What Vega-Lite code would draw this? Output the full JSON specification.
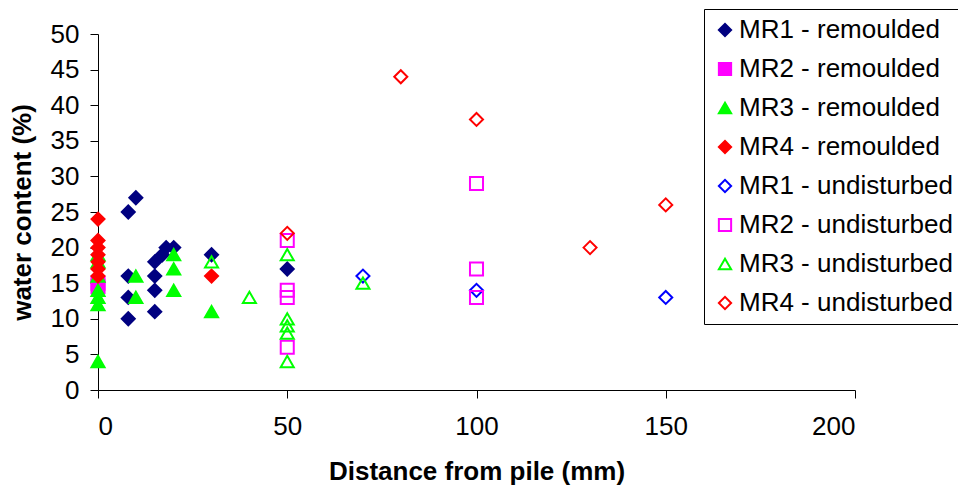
{
  "$schema": "https://vega.github.io/schema/vega-lite/v6.json",
  "width": 757,
  "height": 356,
  "autosize": "none",
  "padding": {"left": 98, "top": 34, "right": 103, "bottom": 104},
  "background": "white",
  "config": {
    "view": {"stroke": null},
    "font": "Liberation Sans"
  },
  "data": {
    "values": [
      {"x": 8, "y": 25, "s": "MR1 - remoulded"},
      {"x": 10, "y": 27, "s": "MR1 - remoulded"},
      {"x": 8, "y": 16, "s": "MR1 - remoulded"},
      {"x": 8, "y": 13, "s": "MR1 - remoulded"},
      {"x": 8, "y": 10, "s": "MR1 - remoulded"},
      {"x": 15, "y": 18, "s": "MR1 - remoulded"},
      {"x": 15, "y": 16, "s": "MR1 - remoulded"},
      {"x": 15, "y": 14, "s": "MR1 - remoulded"},
      {"x": 15, "y": 11, "s": "MR1 - remoulded"},
      {"x": 17, "y": 19, "s": "MR1 - remoulded"},
      {"x": 18, "y": 20, "s": "MR1 - remoulded"},
      {"x": 20, "y": 20, "s": "MR1 - remoulded"},
      {"x": 30, "y": 19, "s": "MR1 - remoulded"},
      {"x": 50, "y": 17, "s": "MR1 - remoulded"},
      {"x": 0, "y": 15, "s": "MR2 - remoulded"},
      {"x": 0, "y": 14.5, "s": "MR2 - remoulded"},
      {"x": 0, "y": 4, "s": "MR3 - remoulded"},
      {"x": 0, "y": 12, "s": "MR3 - remoulded"},
      {"x": 0, "y": 13, "s": "MR3 - remoulded"},
      {"x": 0, "y": 14, "s": "MR3 - remoulded"},
      {"x": 0, "y": 16, "s": "MR3 - remoulded"},
      {"x": 0, "y": 18, "s": "MR3 - remoulded"},
      {"x": 0, "y": 19, "s": "MR3 - remoulded"},
      {"x": 10, "y": 16, "s": "MR3 - remoulded"},
      {"x": 10, "y": 13, "s": "MR3 - remoulded"},
      {"x": 20, "y": 19, "s": "MR3 - remoulded"},
      {"x": 20, "y": 17, "s": "MR3 - remoulded"},
      {"x": 20, "y": 14, "s": "MR3 - remoulded"},
      {"x": 30, "y": 11, "s": "MR3 - remoulded"},
      {"x": 0, "y": 24, "s": "MR4 - remoulded"},
      {"x": 0, "y": 21, "s": "MR4 - remoulded"},
      {"x": 0, "y": 20, "s": "MR4 - remoulded"},
      {"x": 0, "y": 19, "s": "MR4 - remoulded"},
      {"x": 0, "y": 18, "s": "MR4 - remoulded"},
      {"x": 0, "y": 17, "s": "MR4 - remoulded"},
      {"x": 0, "y": 16, "s": "MR4 - remoulded"},
      {"x": 30, "y": 16, "s": "MR4 - remoulded"},
      {"x": 70, "y": 16, "s": "MR1 - undisturbed"},
      {"x": 100, "y": 14, "s": "MR1 - undisturbed"},
      {"x": 150, "y": 13, "s": "MR1 - undisturbed"},
      {"x": 50, "y": 21, "s": "MR2 - undisturbed"},
      {"x": 50, "y": 14, "s": "MR2 - undisturbed"},
      {"x": 50, "y": 13, "s": "MR2 - undisturbed"},
      {"x": 50, "y": 6, "s": "MR2 - undisturbed"},
      {"x": 100, "y": 29, "s": "MR2 - undisturbed"},
      {"x": 100, "y": 17, "s": "MR2 - undisturbed"},
      {"x": 100, "y": 13, "s": "MR2 - undisturbed"},
      {"x": 30, "y": 18, "s": "MR3 - undisturbed"},
      {"x": 40, "y": 13, "s": "MR3 - undisturbed"},
      {"x": 50, "y": 19, "s": "MR3 - undisturbed"},
      {"x": 50, "y": 10, "s": "MR3 - undisturbed"},
      {"x": 50, "y": 9, "s": "MR3 - undisturbed"},
      {"x": 50, "y": 8, "s": "MR3 - undisturbed"},
      {"x": 50, "y": 4, "s": "MR3 - undisturbed"},
      {"x": 70, "y": 15, "s": "MR3 - undisturbed"},
      {"x": 50, "y": 22, "s": "MR4 - undisturbed"},
      {"x": 80, "y": 44, "s": "MR4 - undisturbed"},
      {"x": 100, "y": 38, "s": "MR4 - undisturbed"},
      {"x": 130, "y": 20, "s": "MR4 - undisturbed"},
      {"x": 150, "y": 26, "s": "MR4 - undisturbed"}
    ]
  },
  "mark": {"type": "point", "size": 170, "strokeWidth": 2, "opacity": 1},
  "encoding": {
    "x": {
      "field": "x", "type": "quantitative",
      "scale": {"domain": [0, 200], "nice": false, "zero": false},
      "axis": {
        "title": "Distance from pile (mm)",
        "values": [0, 50, 100, 150, 200],
        "grid": false, "domainColor": "black", "tickColor": "black",
        "tickSize": 8, "labelFontSize": 26, "labelColor": "black", "labelPadding": 15,
        "labelFont": "Liberation Sans",
        "titleFontSize": 26, "titleFontWeight": "bold", "titleColor": "black",
        "titleFont": "Liberation Sans", "titlePadding": 19
      }
    },
    "y": {
      "field": "y", "type": "quantitative",
      "scale": {"domain": [0, 50], "nice": false, "zero": false},
      "axis": {
        "title": "water content (%)",
        "values": [0, 5, 10, 15, 20, 25, 30, 35, 40, 45, 50],
        "grid": false, "domainColor": "black", "tickColor": "black",
        "tickSize": 8, "labelFontSize": 26, "labelColor": "black", "labelPadding": 11,
        "labelFont": "Liberation Sans",
        "titleFontSize": 26, "titleFontWeight": "bold", "titleColor": "black",
        "titleFont": "Liberation Sans", "titlePadding": 15
      }
    },
    "shape": {
      "field": "s", "type": "nominal",
      "scale": {
        "domain": ["MR1 - remoulded", "MR2 - remoulded", "MR3 - remoulded", "MR4 - remoulded", "MR1 - undisturbed", "MR2 - undisturbed", "MR3 - undisturbed", "MR4 - undisturbed"],
        "range": ["diamond", "square", "triangle-up", "diamond", "diamond", "square", "triangle-up", "diamond"]
      },
      "legend": {
        "title": null, "orient": "none", "legendX": 606, "legendY": -25,
        "strokeColor": "black", "fillColor": "white", "padding": 8,
        "labelFontSize": 26, "labelFont": "Liberation Sans", "labelColor": "black", "labelLimit": 500,
        "symbolSize": 150, "symbolStrokeWidth": 2, "rowPadding": 13, "labelOffset": 1
      }
    },
    "stroke": {
      "field": "s", "type": "nominal",
      "scale": {
        "domain": ["MR1 - remoulded", "MR2 - remoulded", "MR3 - remoulded", "MR4 - remoulded", "MR1 - undisturbed", "MR2 - undisturbed", "MR3 - undisturbed", "MR4 - undisturbed"],
        "range": ["#000080", "#FF00FF", "#00FF00", "#FF0000", "#0000FF", "#FF00FF", "#00FF00", "#FF0000"]
      },
      "legend": {
        "title": null, "orient": "none", "legendX": 606, "legendY": -25,
        "strokeColor": "black", "fillColor": "white", "padding": 8,
        "labelFontSize": 26, "labelFont": "Liberation Sans", "labelColor": "black", "labelLimit": 500,
        "symbolSize": 150, "symbolStrokeWidth": 2, "rowPadding": 13, "labelOffset": 1
      }
    },
    "fill": {
      "field": "s", "type": "nominal",
      "scale": {
        "domain": ["MR1 - remoulded", "MR2 - remoulded", "MR3 - remoulded", "MR4 - remoulded", "MR1 - undisturbed", "MR2 - undisturbed", "MR3 - undisturbed", "MR4 - undisturbed"],
        "range": ["#000080", "#FF00FF", "#00FF00", "#FF0000", "transparent", "transparent", "transparent", "transparent"]
      },
      "legend": {
        "title": null, "orient": "none", "legendX": 606, "legendY": -25,
        "strokeColor": "black", "fillColor": "white", "padding": 8,
        "labelFontSize": 26, "labelFont": "Liberation Sans", "labelColor": "black", "labelLimit": 500,
        "symbolSize": 150, "symbolStrokeWidth": 2, "rowPadding": 13, "labelOffset": 1
      }
    }
  }
}
